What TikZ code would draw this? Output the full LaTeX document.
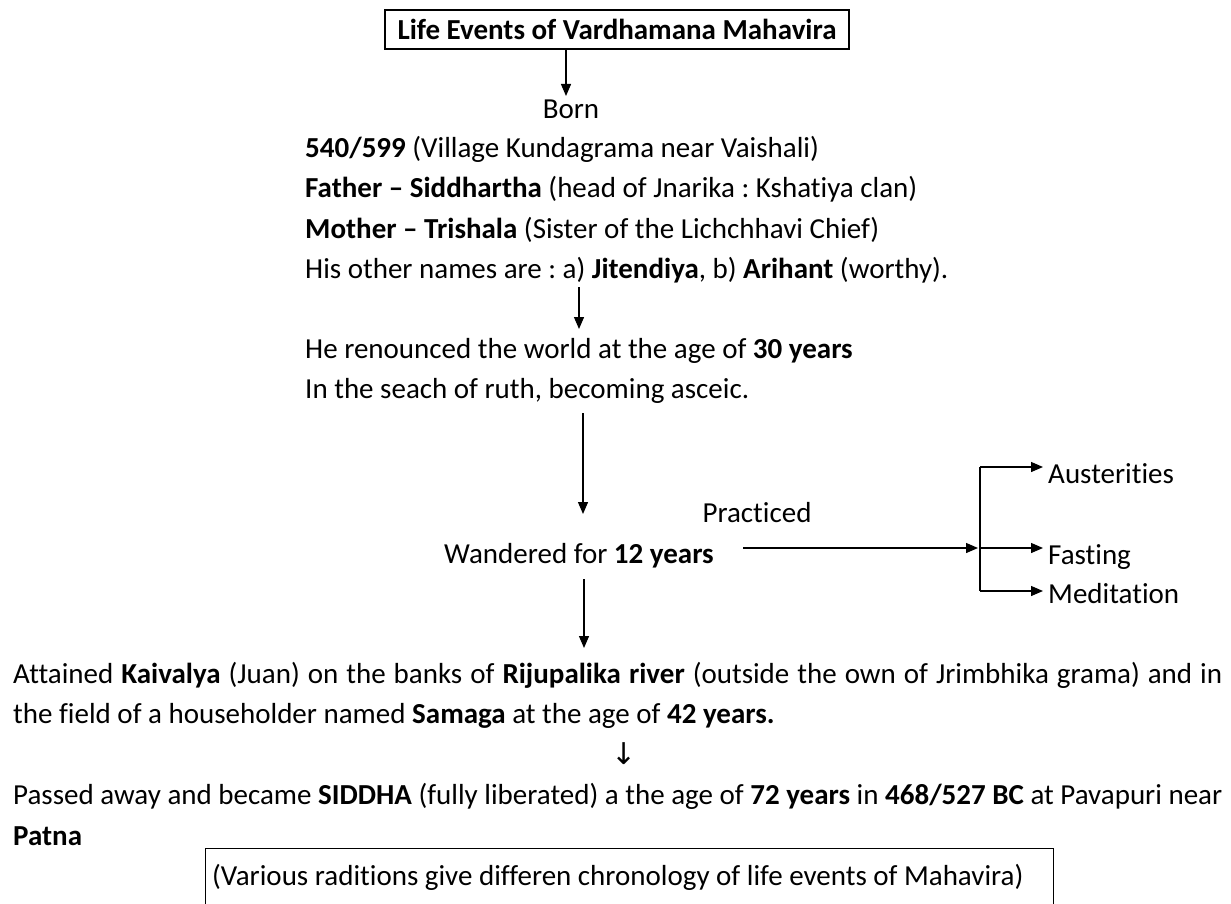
\documentclass[tikz,border=0pt]{standalone}
\usepackage{fontspec}
\setmainfont{Carlito}[Ligatures={NoCommon}]
\newfontfamily\symfont{DejaVu Sans}
\usetikzlibrary{arrows.meta}
\frenchspacing
\begin{document}
\frenchspacing
\begin{tikzpicture}[x=1pt,y=-1pt,
  every node/.style={font=\fontsize{29}{34}\selectfont\frenchspacing, inner sep=0pt},
  txt/.style={anchor=base west},
  arr/.style={line width=1.3pt, -{Triangle[length=12pt,width=10pt]}},
  ln/.style={line width=1.3pt}]
\useasboundingbox (0,0) rectangle (1231,904);
\fill[white] (0,0) rectangle (1231,904);

% texts
\node[draw, line width=1.3pt, minimum width=464pt, minimum height=39pt,
      font=\bfseries\fontsize{29}{34}\selectfont] (title) at (617,29.5) {Life Events of Vardhamana Mahavira};
\node[anchor=base] (born) at (571,119) {Born};
\node[txt] (l1) at (305,158) {\textbf{540/599} (Village Kundagrama near Vaishali)};
\node[txt] (l2) at (305,198) {\textbf{Father – Siddhartha} (head of Jnarika : Kshatiya clan)};
\node[txt] (l3) at (305,238) {\textbf{Mother – Trishala} (Sister of the Lichchhavi Chief)};
\node[txt] (l4) at (305,278) {His other names are : a) \textbf{Jitendiya}, b) \textbf{Arihant} (worthy).};
\node[txt] (r1) at (305,358) {He renounced the world at the age of \textbf{30 years}};
\node[txt] (r2) at (305,398) {In the seach of ruth, becoming asceic.};
\node[anchor=base] (wand) at (579,563) {Wandered for \textbf{12 years}};
\node[anchor=base] (prac) at (757,522) {Practiced};
\node[txt] (aus) at (1048,483) {Austerities};
\node[txt] (fast) at (1048,564) {Fasting};
\node[txt] (med) at (1048,603) {Meditation};
\node[txt] (k1) at (13,683) {\makebox[1209pt][s]{Attained \textbf{Kaivalya} (Juan) on the banks of \textbf{Rijupalika river} (outside the own of Jrimbhika grama) and in}};
\node[txt] (k2) at (13,723) {the field of a householder named \textbf{Samaga} at the age of \textbf{42 years.}};
\node[font=\symfont\fontsize{30}{34}\selectfont] (down) at (624,754) {↓};
\node[txt] (p1) at (13,804) {\makebox[1209pt][s]{Passed away and became \textbf{SIDDHA} (fully liberated) a the age of \textbf{72 years} in \textbf{468/527 BC} at Pavapuri near}};
\node[txt] (p2) at (13,845) {\textbf{Patna}};
\node[draw, ln, anchor=north west, minimum width=848pt, minimum height=80pt] (frame) at (205,848) {};
\node[txt] (note) at (212,885) {(Various raditions give differen chronology of life events of Mahavira)};

% connector end points
\coordinate (a1s) at (566,50);  \coordinate (a1e) at (566,96);
\coordinate (a2s) at (579,287); \coordinate (a2e) at (579,329);
\coordinate (a3s) at (583,413); \coordinate (a3e) at (583,514);
\coordinate (a4s) at (584,579); \coordinate (a4e) at (584,648);
\coordinate (hs) at (743,548);  \coordinate (j) at (980,548);
\coordinate (jt) at (980,467);  \coordinate (jb) at (980,591);
\coordinate (et) at (1043,467); \coordinate (em) at (1043,548); \coordinate (eb) at (1043,591);

\draw[arr] (a1s) -- (a1e);
\draw[arr] (a2s) -- (a2e);
\draw[arr] (a3s) -- (a3e);
\draw[arr] (a4s) -- (a4e);
\draw[arr] (hs) -- ([xshift=-2pt]j);
\draw[ln] (jt) -- (jb);
\draw[arr] (jt) -- (et);
\draw[arr] (j) -- (em);
\draw[arr] (jb) -- (eb);
\end{tikzpicture}
\end{document}
